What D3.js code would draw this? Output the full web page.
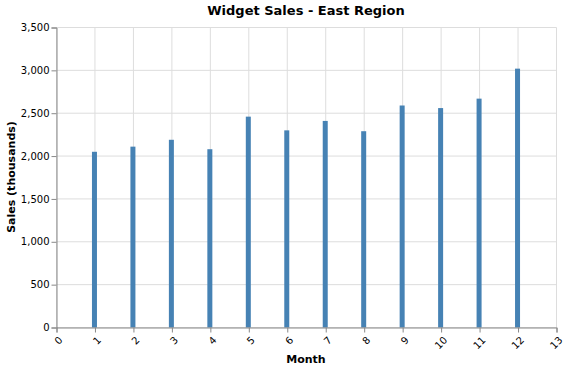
<!DOCTYPE html>
<html>
<head>
<meta charset="utf-8">
<script src="https://cdn.jsdelivr.net/npm/d3@7"></script>
<style>
    body { margin: 0; background: #fff; }
    svg text { font-family: "DejaVu Sans", sans-serif; }
</style>
</head>
<body>
<svg id="chart" width="569" height="371"></svg>
<script>
// 資料
const months = [1, 2, 3, 4, 5, 6, 7, 8, 9, 10, 11, 12];
const sales = [2050, 2110, 2190, 2080, 2460, 2300, 2410, 2290, 2590, 2560, 2670, 3020];
const xTicks = [0, 1, 2, 3, 4, 5, 6, 7, 8, 9, 10, 11, 12, 13];
const yTicks = [0, 500, 1000, 1500, 2000, 2500, 3000, 3500];

const svg = d3.select("#chart");
const margin = { top: 27, left: 56 };
const width = 500;
const height = 300;

const x = d3.scaleLinear().domain([0, 13]).range([0, width]);
const y = d3.scaleLinear().domain([0, 3500]).range([height, 0]);

const chart = svg.append("g")
    .attr("transform", `translate(${margin.left + 0.5},${margin.top + 0.5})`);

// 格線
chart.append("g")
    .selectAll("line")
    .data(xTicks)
    .enter()
    .append("line")
    .attr("x1", d => x(d)).attr("x2", d => x(d))
    .attr("y1", 0).attr("y2", height)
    .attr("stroke", "#ddd");

chart.append("g")
    .selectAll("line")
    .data(yTicks)
    .enter()
    .append("line")
    .attr("x1", 0).attr("x2", width)
    .attr("y1", d => y(d)).attr("y2", d => y(d))
    .attr("stroke", "#ddd");

// 長條
chart.selectAll(".bar")
    .data(months)
    .enter()
    .append("rect")
    .attr("class", "bar")
    .attr("x", d => x(d) - 3)
    .attr("y", (d, i) => y(sales[i]))
    .attr("width", 5)
    .attr("height", (d, i) => height - y(sales[i]))
    .attr("fill", "steelblue");

// Y 軸
const yAxis = chart.append("g")
    .call(d3.axisLeft(y).tickValues(yTicks).tickFormat(d3.format(",")).tickSize(5).tickPadding(2));
yAxis.select(".domain").attr("stroke", "#888");
yAxis.selectAll(".tick line").attr("stroke", "#888");
yAxis.selectAll("text").attr("font-size", 10).attr("fill", "#000").style("font-family", "DejaVu Sans");

// X 軸
const xAxis = chart.append("g")
    .attr("transform", `translate(0,${height})`)
    .call(d3.axisBottom(x).tickValues(xTicks).tickFormat(d3.format("d")).tickSize(5).tickPadding(2));
xAxis.select(".domain").attr("stroke", "#888");
xAxis.selectAll(".tick line").attr("stroke", "#888");
xAxis.selectAll("text")
    .attr("font-size", 10)
    .attr("fill", "#000")
    .style("font-family", "DejaVu Sans")
    .attr("y", 0)
    .attr("dy", "0.75em")
    .attr("text-anchor", "end")
    .attr("transform", "translate(1,8) rotate(-45)");

// 標題
svg.append("text")
    .attr("x", margin.left + width / 2)
    .attr("y", 15)
    .attr("text-anchor", "middle")
    .attr("font-size", 13)
    .attr("font-weight", "bold")
    .text("Widget Sales - East Region");

svg.append("text")
    .attr("x", margin.left + width / 2)
    .attr("y", 363)
    .attr("text-anchor", "middle")
    .attr("font-size", 11)
    .attr("font-weight", "bold")
    .text("Month");

svg.append("text")
    .attr("transform", `translate(15,${margin.top + height / 2}) rotate(-90)`)
    .attr("text-anchor", "middle")
    .attr("font-size", 11)
    .attr("font-weight", "bold")
    .text("Sales (thousands)");
</script>
</body>
</html>
